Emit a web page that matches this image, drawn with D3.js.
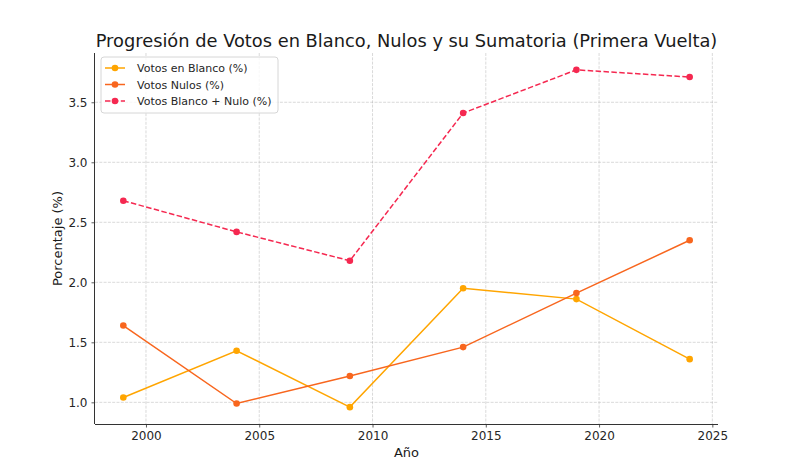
<!DOCTYPE html>
<html><head><meta charset="utf-8">
<script src="https://cdn.jsdelivr.net/npm/d3@7"></script>
<style>body{margin:0;background:#fff}svg{display:block;font-family:"DejaVu Sans",sans-serif}</style>
</head><body>
<svg id="c" width="787" height="461"></svg>
<script>
const years = [1999, 2004, 2009, 2014, 2019, 2024];
const blanco = [1.04, 1.43, 0.96, 1.95, 1.86, 1.36];
const nulos = [1.64, 0.99, 1.22, 1.46, 1.91, 2.35];
const suma = [2.68, 2.42, 2.18, 3.41, 3.77, 3.71];
const xTicks = [2000, 2005, 2010, 2015, 2020, 2025];
const yTicks = [1.0, 1.5, 2.0, 2.5, 3.0, 3.5];
const seriesNames = ["Votos en Blanco (%)", "Votos Nulos (%)", "Votos Blanco + Nulo (%)"];
const colors = ["#FFA500", "#F8661E", "#F52850"];
const title = "Progresión de Votos en Blanco, Nulos y su Sumatoria (Primera Vuelta)";

const svg = d3.select("#c");
const L = 95, R = 718, T = 53, B = 424;
const x = d3.scaleLinear().domain([1997.75, 2025.25]).range([L, R]);
const y = d3.scaleLinear().domain([0.8195, 3.9105]).range([B, T]);

// grid
const g = svg.append("g");
g.selectAll("line.vx").data(xTicks).join("line")
  .attr("x1", d => x(d)).attr("x2", d => x(d)).attr("y1", T).attr("y2", B)
  .attr("stroke", "#b0b0b0").attr("stroke-opacity", 0.6).attr("stroke-width", 0.8).attr("stroke-dasharray", "3,1.3");
g.selectAll("line.hy").data(yTicks).join("line")
  .attr("x1", L).attr("x2", R).attr("y1", d => y(d)).attr("y2", d => y(d))
  .attr("stroke", "#b0b0b0").attr("stroke-opacity", 0.6).attr("stroke-width", 0.8).attr("stroke-dasharray", "3,1.3");

// axes
const xa = svg.append("g").attr("transform", `translate(0,${B})`)
  .call(d3.axisBottom(x).tickValues(xTicks).tickFormat(d3.format("d")).tickSize(3.5).tickPadding(4));
const ya = svg.append("g").attr("transform", `translate(${L},0)`)
  .call(d3.axisLeft(y).tickValues(yTicks).tickFormat(d3.format(".1f")).tickSize(3.5).tickPadding(4));
[xa, ya].forEach(a => {
  a.select(".domain").attr("stroke", "#333").attr("stroke-width", 1);
  a.selectAll(".tick line").attr("stroke", "#333").attr("stroke-width", 0.8);
  a.selectAll(".tick text").attr("fill", "#262626").style("font-family", "DejaVu Sans").style("font-size", "12px");
});
xa.select(".domain").attr("d", `M${L},0.5H${R}`);
ya.select(".domain").attr("d", `M-0.5,${T}V${B}`);

// lines
const data = [blanco, nulos, suma];
data.forEach((vals, i) => {
  const pts = years.map((yr, j) => [yr, vals[j]]);
  svg.append("path").datum(pts)
    .attr("fill", "none").attr("stroke", colors[i]).attr("stroke-width", 1.5)
    .attr("stroke-dasharray", i === 2 ? "5.5,2.4" : null)
    .attr("d", d3.line().x(d => x(d[0])).y(d => y(d[1])));
  svg.append("g").selectAll("circle").data(pts).join("circle")
    .attr("cx", d => x(d[0])).attr("cy", d => y(d[1])).attr("r", 3.3).attr("fill", colors[i]);
});

// title
const tt = svg.append("text").attr("x", (L + R) / 2).attr("y", 47).attr("text-anchor", "middle")
  .attr("fill", "#1a1a1a").style("font-size", "18px").text(title);
const w = tt.node().getComputedTextLength();
tt.style("font-size", (18 * 622 / w).toFixed(2) + "px");

// axis labels
svg.append("text").attr("x", (L + R) / 2).attr("y", 457).attr("text-anchor", "middle")
  .attr("fill", "#1a1a1a").style("font-size", "13px").text("Año");
svg.append("text").attr("transform", `translate(62,${(T + B) / 2}) rotate(-90)`).attr("text-anchor", "middle")
  .attr("fill", "#1a1a1a").style("font-size", "13px").text("Porcentaje (%)");

// legend
const lg = svg.append("g");
lg.append("rect").attr("x", 101).attr("y", 57).attr("width", 177).attr("height", 56).attr("rx", 3)
  .attr("fill", "#fff").attr("fill-opacity", 0.8).attr("stroke", "#d6d6d6").attr("stroke-width", 1);
seriesNames.forEach((name, i) => {
  const cy = 68 + i * 16.5;
  lg.append("line").attr("x1", 105).attr("x2", 125).attr("y1", cy).attr("y2", cy)
    .attr("stroke", colors[i]).attr("stroke-width", 1.5).attr("stroke-dasharray", i === 2 ? "5.5,2.4" : null);
  lg.append("circle").attr("cx", 115).attr("cy", cy).attr("r", 3.3).attr("fill", colors[i]);
  lg.append("text").attr("x", 137).attr("y", cy + 4).attr("fill", "#262626").style("font-size", "11px").text(name);
});
</script>
</body></html>
